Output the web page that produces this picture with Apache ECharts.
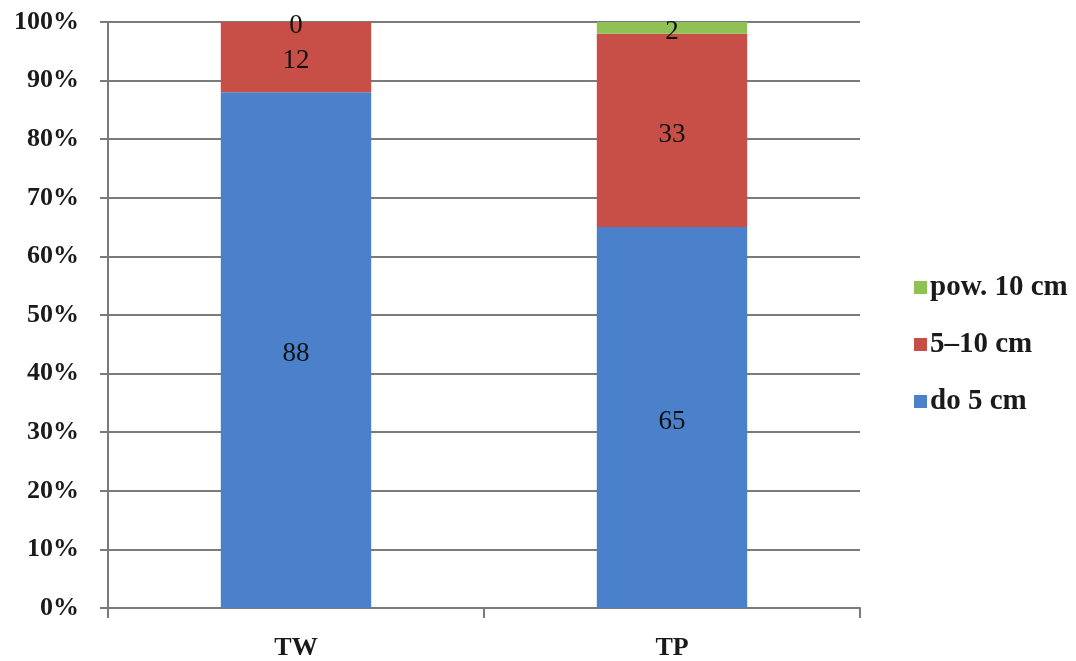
<!DOCTYPE html>
<html>
<head>
<meta charset="utf-8">
<script src="https://cdn.jsdelivr.net/npm/echarts@6/dist/echarts.min.js"></script>
<style>
  html, body { margin: 0; padding: 0; background: #ffffff; }
  #chart { width: 1076px; height: 661px; }
</style>
</head>
<body>
<div id="chart"></div>
<script>
// Share of items by size class (percent), per site
const categories = ['TW', 'TP'];
const seriesNames = ['do 5 cm', '5\u201310 cm', 'pow. 10 cm'];
const do5cm = [88, 65];
const from5to10cm = [12, 33];
const over10cm = [0, 2];
const yTicks = [0, 10, 20, 30, 40, 50, 60, 70, 80, 90, 100];

const serif = '"Liberation Serif", "Times New Roman", serif';
const colors = ['#4a81ca', '#c84e48', '#8fc155'];
const values = [do5cm, from5to10cm, over10cm];

const chart = echarts.init(document.getElementById('chart'));

const series = seriesNames.map((name, i) => ({
  name: name,
  type: 'bar',
  stack: 'total',
  barWidth: '40%',
  data: values[i],
  itemStyle: { color: colors[i] },
  label: {
    show: true,
    position: 'inside',
    offset: [0, 4],
    color: '#111',
    fontFamily: serif,
    fontSize: 27,
    formatter: p => String(p.value)
  },
  emphasis: { disabled: true }
}));

chart.setOption({
  backgroundColor: '#ffffff',
  animation: false,
  grid: { left: 108, right: 216, top: 22, bottom: 52, containLabel: false },
  legend: {
    orient: 'vertical',
    left: 914,
    top: 273,
    padding: 0,
    itemWidth: 13,
    itemHeight: 13,
    itemGap: 28,
    icon: 'rect',
    data: [seriesNames[2], seriesNames[1], seriesNames[0]],
    textStyle: { fontFamily: serif, fontSize: 29, fontWeight: 'bold', color: '#1a1a1a', padding: [0, 0, 0, -2] }
  },
  xAxis: {
    type: 'category',
    data: categories,
    axisLine: { show: true, lineStyle: { color: '#7a7a7a', width: 2 } },
    axisTick: { show: true, alignWithLabel: false, length: 10, lineStyle: { color: '#7a7a7a', width: 2 } },
    axisLabel: { margin: 27, fontFamily: serif, fontSize: 26, fontWeight: 'bold', color: '#1a1a1a' },
    splitLine: { show: false }
  },
  yAxis: {
    type: 'value',
    min: yTicks[0],
    max: yTicks[yTicks.length - 1],
    interval: yTicks[1] - yTicks[0],
    axisLine: { show: true, lineStyle: { color: '#7a7a7a', width: 2 } },
    axisTick: { show: true, length: 8, lineStyle: { color: '#7a7a7a', width: 2 } },
    axisLabel: {
      margin: 29,
      fontFamily: serif,
      fontSize: 26,
      fontWeight: 'bold',
      color: '#1a1a1a',
      formatter: v => v + '%'
    },
    splitLine: { show: true, lineStyle: { color: '#7a7a7a', width: 2 } }
  },
  series: series
});
</script>
</body>
</html>
